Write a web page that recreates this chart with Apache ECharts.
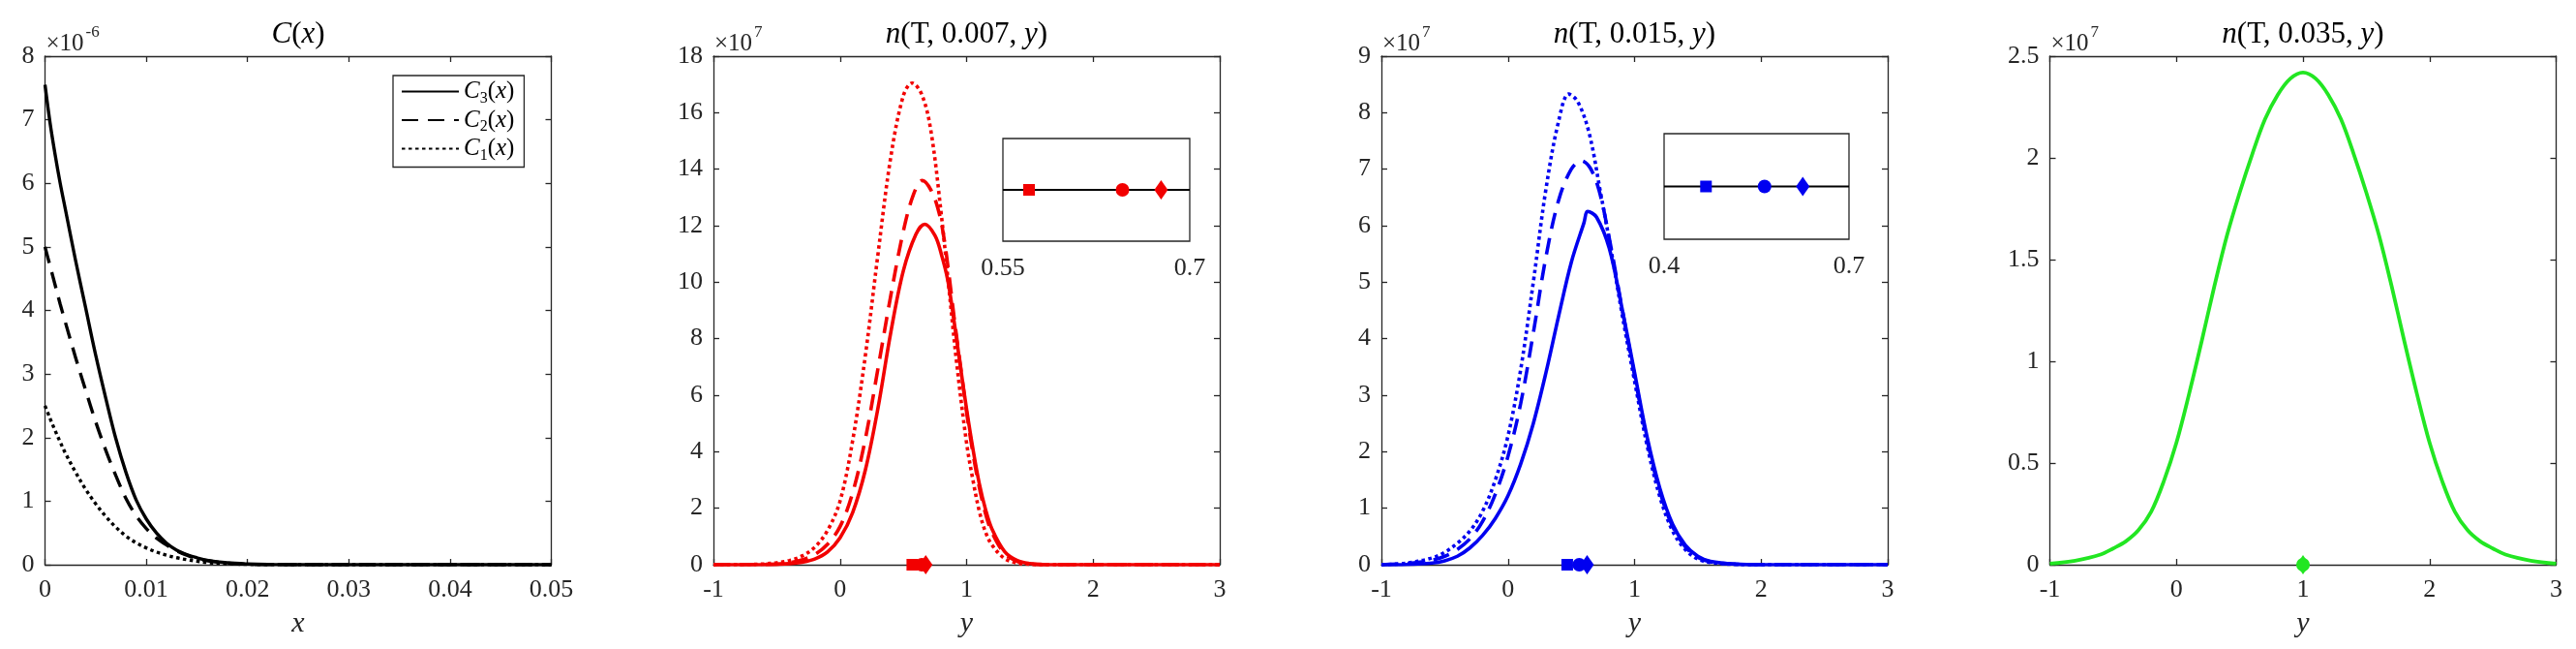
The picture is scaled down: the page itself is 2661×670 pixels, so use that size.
<!DOCTYPE html>
<html>
<head>
<meta charset="utf-8">
<script src="https://cdn.jsdelivr.net/npm/echarts@6/dist/echarts.min.js"></script>
<style>html,body{margin:0;padding:0;background:#fff}#c{width:2661px;height:670px}</style>
</head>
<body>
<div id="c"></div>
<script>
// ---------- Panel 1: C(x) (×10^-6) ----------
const xC = [0,0.0005,0.001,0.0015,0.002,0.003,0.004,0.005,0.006,0.007,0.008,0.009,0.010,0.011,0.012,0.013,0.014,0.015,0.016,0.018,0.020,0.022,0.025,0.030,0.040,0.050];
const C3 = [7.55,6.95,6.45,6.0,5.6,4.8,4.05,3.3,2.62,1.98,1.45,1.02,0.72,0.5,0.34,0.23,0.16,0.11,0.07,0.03,0.012,0.004,0.001,0,0,0];
const C2 = [5.0,4.7,4.4,4.1,3.82,3.27,2.75,2.25,1.8,1.4,1.04,0.77,0.57,0.42,0.31,0.22,0.15,0.1,0.065,0.025,0.008,0.002,0,0,0,0];
const C1 = [2.5,2.3,2.11,1.93,1.76,1.46,1.19,0.96,0.76,0.59,0.45,0.345,0.265,0.2,0.15,0.11,0.08,0.055,0.035,0.015,0.005,0.001,0,0,0,0];

// ---------- Panel 2: n(T,0.007,y) (×10^7) ----------
const x2s = [-1,-0.6,-0.4,-0.3,-0.2,-0.1,0,0.1,0.2,0.3,0.4,0.5,0.6,0.67,0.75,0.8,0.85,0.9,0.95,1.0,1.05,1.1,1.15,1.2,1.3,1.4,1.5,1.6,1.8,3];
const S2  = [0,0.005,0.04,0.09,0.2,0.45,0.95,1.85,3.35,5.55,8.2,10.4,11.7,12.05,11.65,11.0,10.1,8.65,7.05,5.5,4.1,2.88,1.95,1.27,0.47,0.15,0.04,0.01,0,0];
const x2d = [-1,-0.5,-0.4,-0.3,-0.2,-0.1,0,0.1,0.2,0.3,0.4,0.5,0.58,0.65,0.72,0.78,0.82,0.86,0.9,0.95,1.0,1.05,1.1,1.15,1.2,1.3,1.4,1.5,1.6,3];
const D2  = [0,0.02,0.07,0.17,0.36,0.72,1.35,2.55,4.45,6.95,9.5,11.8,13.1,13.6,13.25,12.5,11.6,10.3,8.8,7.1,5.4,3.95,2.75,1.8,1.15,0.4,0.12,0.03,0,0];
const x2p = [-1,-0.7,-0.6,-0.5,-0.4,-0.3,-0.2,-0.1,0,0.1,0.2,0.3,0.4,0.5,0.57,0.65,0.72,0.8,0.86,0.92,1.0,1.05,1.1,1.15,1.2,1.3,1.4,1.5,1.6,3];
const P2  = [0,0.01,0.03,0.07,0.15,0.31,0.62,1.2,2.25,4.4,7.4,11.0,14.4,16.6,17.05,16.6,15.3,12.4,9.8,7.2,4.3,3.0,1.9,1.15,0.7,0.22,0.06,0.015,0,0];
const mk2 = [0.571, 0.646, 0.677]; // square, circle, diamond

// ---------- Panel 3: n(T,0.015,y) (×10^7) ----------
const x3s = [-1,-0.8,-0.6,-0.5,-0.4,-0.3,-0.2,-0.1,0,0.1,0.2,0.3,0.4,0.5,0.6,0.63,0.7,0.8,0.9,1.0,1.1,1.2,1.3,1.4,1.5,1.6,1.8,2,3];
const S3  = [0,0.005,0.03,0.07,0.15,0.3,0.52,0.82,1.22,1.78,2.5,3.4,4.4,5.35,6.05,6.25,6.15,5.6,4.55,3.4,2.25,1.35,0.72,0.35,0.15,0.06,0.01,0,0];
const x3d = [-1,-0.8,-0.6,-0.5,-0.4,-0.3,-0.2,-0.1,0,0.1,0.2,0.3,0.4,0.5,0.58,0.65,0.72,0.8,0.9,1.0,1.1,1.2,1.3,1.4,1.5,1.6,1.8,2,3];
const D3  = [0,0.02,0.08,0.15,0.27,0.46,0.77,1.25,1.92,2.85,4.1,5.45,6.45,7.0,7.15,7.02,6.62,5.78,4.55,3.35,2.2,1.3,0.68,0.32,0.13,0.05,0.01,0,0];
const x3p = [-1,-0.8,-0.6,-0.5,-0.4,-0.3,-0.2,-0.1,0,0.1,0.2,0.3,0.4,0.48,0.55,0.64,0.73,0.82,0.9,1.0,1.1,1.2,1.3,1.4,1.5,1.6,1.8,2,3];
const P3  = [0,0.03,0.12,0.22,0.38,0.6,0.95,1.5,2.28,3.45,5.0,6.65,7.85,8.33,8.2,7.65,6.6,5.5,4.45,3.25,2.1,1.2,0.6,0.27,0.1,0.04,0.005,0,0];
const mk3 = [0.468, 0.563, 0.625];

// ---------- Panel 4: n(T,0.035,y) (×10^7) ----------
const x4 = [-1,-0.8,-0.6,-0.5,-0.4,-0.3,-0.2,-0.1,0,0.1,0.2,0.3,0.4,0.5,0.6,0.7,0.8,0.9,1.0,1.1,1.2,1.3,1.4,1.5,1.6,1.7,1.8,1.9,2.0,2.1,2.2,2.3,2.4,2.5,2.6,2.8,3];
const G4 = [0.005,0.02,0.05,0.08,0.115,0.17,0.26,0.41,0.6,0.84,1.1,1.37,1.62,1.83,2.02,2.19,2.31,2.39,2.42,2.39,2.31,2.19,2.02,1.83,1.62,1.37,1.1,0.84,0.6,0.41,0.26,0.17,0.115,0.08,0.05,0.02,0.005];
const mk4 = [1.0, 1.0]; // circle, diamond

// ---------- ticks / text ----------
const titles = [
  '{i|C}{r|(}{i|x}{r|)}',
  '{i|n}{r|(T, 0.007, }{i|y}{r|)}',
  '{i|n}{r|(T, 0.015, }{i|y}{r|)}',
  '{i|n}{r|(T, 0.035, }{i|y}{r|)}'
];
const multExp = ['-6', '7', '7', '7'];
const xNames = ['x', 'y', 'y', 'y'];
const inset2Ticks = [0.55, 0.7];
const inset3Ticks = [0.4, 0.7];

const FONT = '"Liberation Serif", "DejaVu Serif", serif';
const AX = '#262626';
const RED = '#f20000', BLUE = '#0000f0', GREEN = '#22e622';

const lefts = [46.5, 737, 1427, 2117.5];
const TOP = 58, W = 523, H = 525;

const xr = [[0, 0.05, 0.01], [-1, 3, 1], [-1, 3, 1], [-1, 3, 1]];
const yr = [[0, 8, 1], [0, 18, 2], [0, 9, 1], [0, 2.5, 0.5]];

const zip = (xs, ys) => xs.map((v, i) => [v, ys[i]]);

const grids = [], xAxes = [], yAxes = [], series = [], graphics = [];
const lineAx = {show: true, onZero: false, lineStyle: {color: AX, width: 1.3}};
const tickAx = {show: true, inside: true, length: 6, lineStyle: {color: AX, width: 1.3}};

for (let i = 0; i < 4; i++) {
  grids.push({left: lefts[i], top: TOP, width: W, height: H, containLabel: false});
  xAxes.push({type: 'value', gridIndex: i, position: 'bottom', min: xr[i][0], max: xr[i][1], interval: xr[i][2],
    axisLine: lineAx, axisTick: tickAx, splitLine: {show: false},
    axisLabel: {color: AX, fontFamily: FONT, fontSize: 26, margin: 13},
    name: xNames[i], nameLocation: 'middle', nameGap: 46,
    nameTextStyle: {color: AX, fontFamily: FONT, fontStyle: 'italic', fontSize: 30}});
  xAxes.push({type: 'value', gridIndex: i, position: 'top', min: xr[i][0], max: xr[i][1], interval: xr[i][2],
    axisLine: lineAx, axisTick: tickAx, splitLine: {show: false}, axisLabel: {show: false}});
  yAxes.push({type: 'value', gridIndex: i, position: 'left', min: yr[i][0], max: yr[i][1], interval: yr[i][2],
    axisLine: lineAx, axisTick: tickAx, splitLine: {show: false},
    axisLabel: {color: AX, fontFamily: FONT, fontSize: 26, margin: 11}});
  yAxes.push({type: 'value', gridIndex: i, position: 'right', min: yr[i][0], max: yr[i][1], interval: yr[i][2],
    axisLine: lineAx, axisTick: tickAx, splitLine: {show: false}, axisLabel: {show: false}});

  graphics.push({type: 'text', x: lefts[i] + W / 2, y: 36, style: {
    text: titles[i], align: 'center', verticalAlign: 'middle', fill: '#000',
    rich: {i: {fontFamily: FONT, fontStyle: 'italic', fontSize: 31, fill: '#000'},
           r: {fontFamily: FONT, fontSize: 31, fill: '#000'}}}});
  graphics.push({type: 'text', x: lefts[i] + 1, y: 45, style: {
    text: '×10', align: 'left', verticalAlign: 'middle', fill: AX, fontFamily: FONT, fontSize: 25}});
  graphics.push({type: 'text', x: lefts[i] + 42, y: 34, style: {
    text: multExp[i], align: 'left', verticalAlign: 'middle', fill: AX, fontFamily: FONT, fontSize: 17}});
}

// inset grids
grids.push({left: 1036, top: 143, width: 193, height: 106, show: true, borderColor: AX, borderWidth: 1.3, backgroundColor: '#fff', z: 5});
grids.push({left: 1719, top: 138, width: 191, height: 109, show: true, borderColor: AX, borderWidth: 1.3, backgroundColor: '#fff', z: 5});
const insetX = (g, ticks) => ({type: 'value', gridIndex: g, min: ticks[0], max: ticks[1],
  axisLine: {show: false}, axisTick: {show: false}, splitLine: {show: false},
  axisLabel: {show: true, customValues: ticks, color: AX, fontFamily: FONT, fontSize: 26, margin: 15,
    formatter: v => String(+v.toFixed(2)), showMinLabel: true, showMaxLabel: true}});
xAxes.push(insetX(4, inset2Ticks));
xAxes.push(insetX(5, inset3Ticks));
yAxes.push({type: 'value', gridIndex: 4, min: -1, max: 1, show: false});
yAxes.push({type: 'value', gridIndex: 5, min: -1, max: 1, show: false});

function line(name, gi, data, color, type, width) {
  return {type: 'line', name, xAxisIndex: 2 * gi, yAxisIndex: 2 * gi, data, symbol: 'none', showSymbol: false,
    smooth: 0.35, animation: false,
    lineStyle: {color, width: width || 3.6, type: type || 'solid', cap: 'butt'}, itemStyle: {color}, z: 2};
}
const dash = [17, 10], dot = [3.5, 3.5];

// panel 1
series.push(line('C3', 0, zip(xC, C3), '#000', 'solid', 3.4));
series.push(line('C2', 0, zip(xC, C2), '#000', dash, 3.4));
series.push(line('C1', 0, zip(xC, C1), '#000', dot, 3.4));
// panel 2
series.push(line('p2dot', 1, zip(x2p, P2), RED, dot));
series.push(line('p2dash', 1, zip(x2d, D2), RED, dash));
series.push(line('p2solid', 1, zip(x2s, S2), RED, 'solid'));
// panel 3
series.push(line('p3dot', 2, zip(x3p, P3), BLUE, dot));
series.push(line('p3dash', 2, zip(x3d, D3), BLUE, dash));
series.push(line('p3solid', 2, zip(x3s, S3), BLUE, 'solid'));
// panel 4
series.push(line('p4solid', 3, zip(x4, G4), GREEN, 'solid', 3.8));

function markers(name, xi, yi, xs, color, shapes, sizes) {
  xs.forEach((x, k) => {
    series.push({type: 'scatter', name: name + k, xAxisIndex: xi, yAxisIndex: yi, clip: false, animation: false,
      data: [[x, 0]], symbol: shapes[k], symbolSize: sizes[k], itemStyle: {color, opacity: 1}, z: 6});
  });
}
const shp3 = ['rect', 'circle', 'diamond'];
const sz3 = [12, 14, [14, 20]];
markers('m2', 2, 2, mk2, RED, shp3, sz3);
markers('m3', 4, 4, mk3, BLUE, shp3, sz3);
markers('m4', 6, 6, mk4, GREEN, ['circle', 'diamond'], [14, [14, 20]]);

// insets: baseline + markers
series.push({type: 'line', name: 'i2line', xAxisIndex: 8, yAxisIndex: 8, data: [[inset2Ticks[0], 0], [inset2Ticks[1], 0]],
  symbol: 'none', lineStyle: {color: '#000', width: 2}, z: 6, animation: false});
series.push({type: 'line', name: 'i3line', xAxisIndex: 9, yAxisIndex: 9, data: [[inset3Ticks[0], 0], [inset3Ticks[1], 0]],
  symbol: 'none', lineStyle: {color: '#000', width: 2}, z: 6, animation: false});
markers('i2', 8, 8, mk2, RED, shp3, sz3);
markers('i3', 9, 9, mk3, BLUE, shp3, sz3);

const legendText = {
  C3: '{i|C}{s|3}{r|(}{i|x}{r|)}',
  C2: '{i|C}{s|2}{r|(}{i|x}{r|)}',
  C1: '{i|C}{s|1}{r|(}{i|x}{r|)}'
};

const option = {
  backgroundColor: '#fff',
  animation: false,
  grid: grids,
  xAxis: xAxes,
  yAxis: yAxes,
  series,
  graphic: {elements: graphics},
  legend: {
    show: true, orient: 'vertical', left: 406, top: 78,
    data: ['C3', 'C2', 'C1'],
    itemWidth: 59, itemHeight: 14, itemGap: 2,
    padding: [4, 10, 4, 8],
    borderColor: AX, borderWidth: 1.3, borderRadius: 0, backgroundColor: '#fff',
    itemStyle: {opacity: 0, borderWidth: 0},
    formatter: n => legendText[n],
    textStyle: {color: '#000', fontFamily: FONT, fontSize: 25,
      rich: {
        i: {fontFamily: FONT, fontStyle: 'italic', fontSize: 25, lineHeight: 30, color: '#000'},
        r: {fontFamily: FONT, fontSize: 25, lineHeight: 30, color: '#000'},
        s: {fontFamily: FONT, fontSize: 16, lineHeight: 30, verticalAlign: 'bottom', color: '#000'}
      }}
  }
};

const chart = echarts.init(document.getElementById('c'), null, {renderer: 'canvas'});
chart.setOption(option);
</script>
</body>
</html>
